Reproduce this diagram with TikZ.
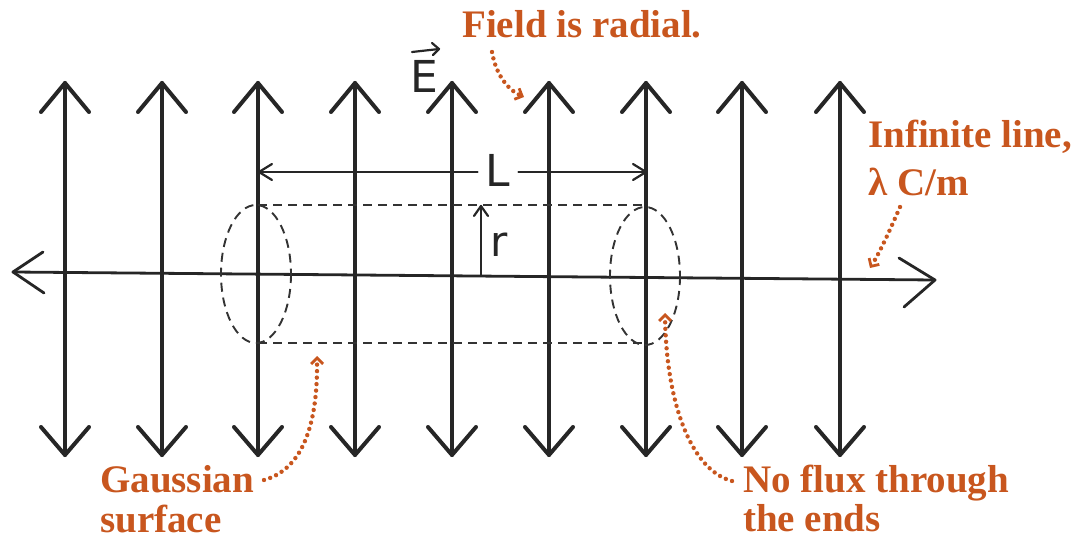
\documentclass[tikz,border=0pt]{standalone}
\usepackage{fontspec}
\setmainfont{Liberation Serif}
\setsansfont{DejaVu Sans}
\usetikzlibrary{arrows.meta,calc}
\definecolor{note}{RGB}{200,86,30}
\tikzset{
  field/.style={line width=4pt, line cap=round, line join=round, black!85},
  axisline/.style={line width=2.8pt, line cap=round, line join=round, black!85},
  gauss/.style={line width=1.9pt, dash pattern=on 9pt off 6pt, black!80},
  thin/.style={line width=2.2pt, line cap=round, line join=round, black!85},
  notetext/.style={text=note, font=\fontsize{39}{44}\selectfont\bfseries, inner sep=0pt},
  pointer/.style={note, line width=4.4pt, line cap=round, dash pattern=on 0pt off 6.5pt,
    -{Straight Barb[length=6pt,width=12pt,line width=2.8pt]}},
  hand/.style={inner sep=0pt, text=black!85}
}
\begin{document}
\begin{tikzpicture}[x=1pt,y=-1pt]
\useasboundingbox (0,0) rectangle (1074,540);
% field arrows
\foreach \i/\x in {1/65,2/162,3/258,4/355,5/452,6/549,7/646,8/742,9/840}{
  \coordinate (t\i) at (\x,83);
  \coordinate (b\i) at (\x,455);
  \draw[field] (t\i) -- (b\i);
  \draw[field] ($(t\i)+(-24,29)$) -- (t\i) -- ($(t\i)+(24,29)$);
  \draw[field] ($(b\i)+(-24,-28)$) -- (b\i) -- ($(b\i)+(24,-28)$);
}
% line charge
\coordinate (al) at (13,272);
\coordinate (ar) at (935,280);
\draw[axisline] (al) -- (ar);
\draw[axisline] (43,252) -- (al) -- (44,293);
\draw[axisline] (899,258) -- (ar) -- (904,307);
% Gaussian cylinder
\coordinate (cl) at (256,274);
\coordinate (cr) at (645,276);
\draw[gauss] (cl) ellipse [x radius=35, y radius=69];
\draw[gauss] (cr) ellipse [x radius=35, y radius=69];
\draw[gauss] (258,205) -- (645,205);
\draw[gauss] (258,343) -- (645,343);
% L dimension
\node[hand, font=\fontsize{44}{44}\selectfont\sffamily] (L) at (498,170) {L};
\coordinate (Ll) at (259,172);
\coordinate (Lr) at (646,172);
\draw[thin] ($(L.west)+(-8,2)$) -- (Ll);
\draw[thin] ($(L.east)+(8,2)$) -- (Lr);
\draw[thin] (272,164) -- (Ll) -- (272,180);
\draw[thin] (633,164) -- (Lr) -- (633,180);
% r
\coordinate (r0) at (481,275);
\coordinate (r1) at (481,206);
\draw[thin] (r0) -- (r1);
\draw[thin] (474,216) -- (r1) -- (488,216);
\node[hand, font=\fontsize{42}{42}\selectfont\sffamily] (r) at (499,245) {r};
% E vector
\node[hand, font=\fontsize{44}{44}\selectfont\sffamily] (E) at (424,76) {E};
\draw[thin] (412,52) -- (439,49);
\draw[thin] (432,43) -- (439,49) -- (433,55);
% notes
\node[notetext, anchor=base west] (n1) at (462,38) {Field is radial.};
\node[notetext, anchor=base west] (n2) at (868,148) {Infinite line,};
\node[notetext, anchor=base west] (n2b) at (868,196) {λ C/m};
\node[notetext, anchor=base west] (n3) at (100,492) {Gaussian};
\node[notetext, anchor=base west] (n3b) at (100,532) {surface};
\node[notetext, anchor=base west] (n4) at (743,492) {No flux through};
\node[notetext, anchor=base west] (n4b) at (743,531) {the ends};
% pointers
\coordinate (p1) at (524,97);
\coordinate (p2) at (870,268);
\coordinate (p3) at (317,356);
\coordinate (p4) at (665,313);
\draw[pointer] (492,52) .. controls (496,75) and (508,90) .. (p1);
\draw[pointer] (900,207) .. controls (890,230) and (880,252) .. (p2);
\draw[pointer] (264,480) .. controls (300,470) and (318,430) .. (p3);
\draw[pointer] (732,481) .. controls (690,470) and (666,400) .. (p4);
\end{tikzpicture}
\end{document}
